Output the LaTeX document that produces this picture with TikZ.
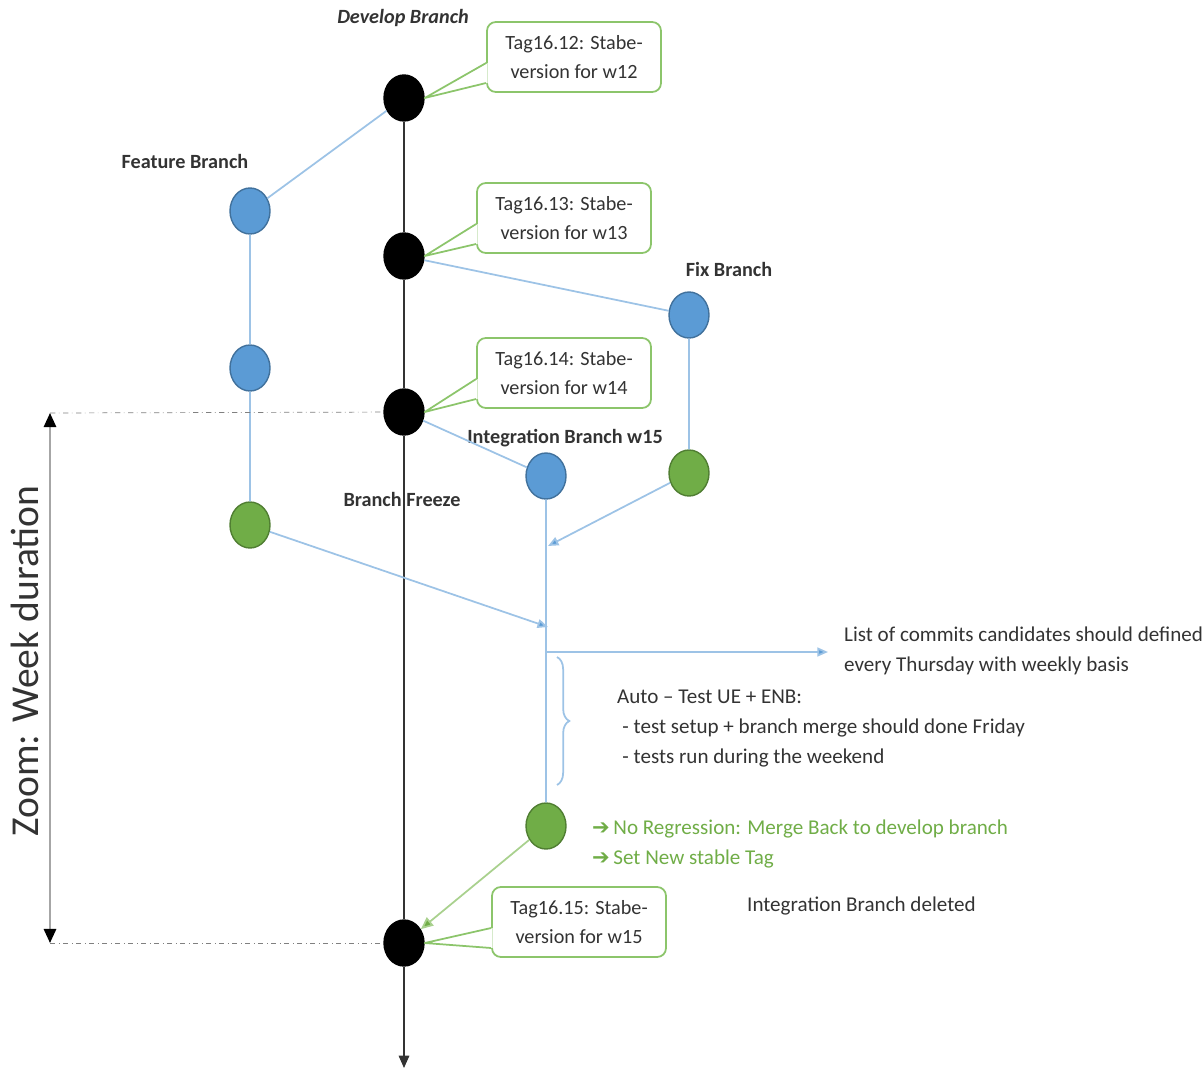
\documentclass[tikz,border=0pt]{standalone}
\usepackage{fontspec}
\setmainfont{Carlito}
\newfontfamily\arrowfont{DejaVu Sans}
\usetikzlibrary{arrows.meta, calc, decorations.pathreplacing, shapes.geometric}

\definecolor{txtgray}{HTML}{333333}
\definecolor{blueFill}{HTML}{5B9BD5}
\definecolor{blueEdge}{HTML}{41719C}
\definecolor{greenFill}{HTML}{70AD47}
\definecolor{greenEdge}{HTML}{507E32}
\definecolor{branchLine}{HTML}{9DC3E6}
\definecolor{tagGreen}{HTML}{8CC56B}
\definecolor{mergeGreen}{HTML}{A9D18E}

\tikzset{
  commit/.style={ellipse, minimum width=0.8cm, minimum height=0.92cm, inner sep=0pt, line width=0.8pt},
  devcommit/.style={commit, fill=black, draw=black},
  bluecommit/.style={commit, fill=blueFill, draw=blueEdge},
  greencommit/.style={commit, fill=greenFill, draw=greenEdge},
  tagbox/.style={draw=tagGreen, line width=1pt, rounded corners=5pt, fill=white,
    minimum width=3.48cm, minimum height=1.4cm, align=center, text=txtgray,
    font=\fontsize{11.5}{17}\selectfont},
  branchlabel/.style={font=\fontsize{11.5}{16}\selectfont\bfseries, text=txtgray},
  note/.style={align=left, text=txtgray},
  branch/.style={draw=branchLine, line width=1pt},
  branchmerge/.style={branch, -{Triangle[length=6pt, width=5pt, fill=blueFill]}},
}

\begin{document}
\begin{tikzpicture}[x=0.02cm, y=-0.02cm, font=\fontsize{12}{17}\selectfont]
    \useasboundingbox (0,0) rectangle (1203,1071);

    % develop branch
    \node[devcommit] (dev12) at (404,98) {};
    \node[devcommit] (dev13) at (404,256) {};
    \node[devcommit] (dev14) at (404,412) {};
    \node[devcommit] (dev15) at (404,943) {};
    \coordinate (devend) at (404,1068);
    \draw[black!80, line width=0.8pt, -{Triangle[length=7pt, width=6pt]}]
        (dev12) -- (dev13) -- (dev14) -- (dev15) -- (devend);
    \node[font=\fontsize{11.5}{16}\selectfont\bfseries\itshape, text=txtgray] (devlabel) at (403,18) {Develop Branch};

    % tags
    \node[tagbox] (tag12) at (574,57) {Tag16.12: Stabe-\\version for w12};
    \node[tagbox] (tag13) at (564,218) {Tag16.13: Stabe-\\version for w13};
    \node[tagbox] (tag14) at (564,373) {Tag16.14: Stabe-\\version for w14};
    \node[tagbox] (tag15) at (579,922) {Tag16.15: Stabe-\\version for w15};
    \foreach \c/\t in {dev12/tag12, dev13/tag13, dev14/tag14, dev15/tag15}{
        \fill[white] ($(\t.west)+(1.5,6)$) -- (\c.east) -- ($(\t.west)+(1.5,26)$) -- cycle;
        \draw[tagGreen, line width=1pt, line join=round]
            ($(\t.west)+(0,6)$) -- (\c.east) -- ($(\t.west)+(0,26)$);
    }

    % feature branch
    \node[branchlabel] (featlabel) at (185,161) {Feature Branch};
    \node[bluecommit] (feat1) at (250,211) {};
    \node[bluecommit] (feat2) at (250,368) {};
    \node[greencommit] (feat3) at (250,525) {};
    \draw[branch] (dev12) -- (feat1) -- (feat2) -- (feat3);

    % fix branch
    \node[branchlabel] (fixlabel) at (729,269) {Fix Branch};
    \node[bluecommit] (fix1) at (689,315) {};
    \node[greencommit] (fix2) at (689,473) {};
    \draw[branch] (dev13) -- (fix1) -- (fix2);

    % integration branch
    \node[branchlabel] (intlabel) at (565,438) {Integration Branch w15};
    \node[branchlabel] (freeze) at (402,499) {Branch Freeze};
    \node[bluecommit] (int1) at (546,476) {};
    \node[greencommit] (int2) at (546,826) {};
    \coordinate (merge1) at (548,546);
    \coordinate (merge2) at (548,627);
    \coordinate (cand) at (546,652);
    \coordinate (candend) at (828,652);
    \draw[branch] (dev14) -- (int1) -- (int2);
    \draw[branchmerge] (fix2) -- (merge1);
    \draw[branchmerge] (feat3) -- (merge2);
    \draw[branchmerge] (cand) -- (candend);
    \node[note, anchor=west] (candnote) at (838,651)
        {List of commits candidates should defined\\every Thursday with weekly basis};

    % auto test
    \coordinate (bracetop) at (557,657);
    \coordinate (bracebot) at (557,785);
    \draw[branch, decorate, decoration={brace, amplitude=7pt, aspect=0.5}]
        (bracetop) -- (bracebot);
    \node[note, anchor=north west] (testnote) at (611,684)
        {Auto -- Test UE + ENB:\\\hspace{3pt}- test setup + branch merge should done Friday\\\hspace{3pt}- tests run during the weekend};

    % merge back
    \node[align=left, anchor=west, text=greenFill] (mergenote) at (586,844)
        {{\arrowfont ➔}\,No Regression: Merge Back to develop branch\\{\arrowfont ➔}\,Set New stable Tag};
    \draw[mergeGreen, line width=1pt, -{Triangle[length=7pt, width=6pt, fill=greenFill]}] (int2) -- (dev15);
    \node[note, anchor=west] (deleted) at (741,906) {Integration Branch deleted};

    % week duration
    \coordinate (zoomtop) at (50,413);
    \coordinate (zoombot) at (50,943);
    \draw[gray, dash dot] (zoomtop) -- (dev14);
    \draw[gray, dash dot] (zoombot) -- (dev15);
    \draw[black!35, line width=1.2pt, {Triangle[length=8pt, width=7pt, color=black]}-{Triangle[length=8pt, width=7pt, color=black]}]
        (zoomtop) -- (zoombot);
    \node[rotate=90, font=\fontsize{22.5}{26}\selectfont, text=txtgray] (zoomlabel) at (25,661) {Zoom: Week duration};
\end{tikzpicture}
\end{document}
